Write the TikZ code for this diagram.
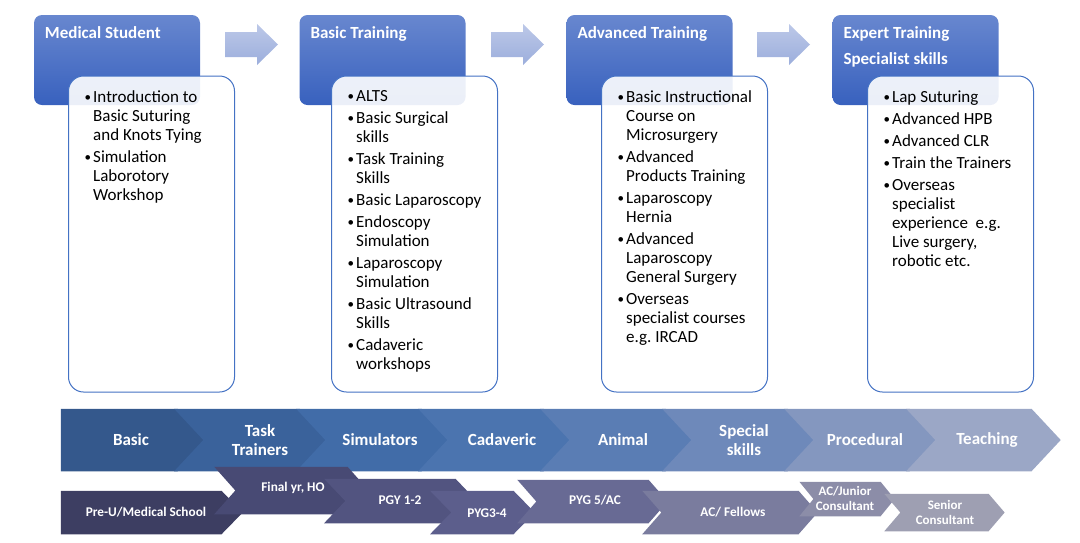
\documentclass[tikz,border=0pt]{standalone}
\usepackage{fontspec}
\setmainfont{Carlito}
\usetikzlibrary{positioning}

\definecolor{hdtop}{RGB}{104,135,207}
\definecolor{hdbot}{RGB}{56,97,190}
\definecolor{listline}{RGB}{68,114,196}
\definecolor{arrtop}{RGB}{188,200,232}
\definecolor{arrbot}{RGB}{156,174,220}
\definecolor{c1}{RGB}{52,88,140}
\definecolor{c2}{RGB}{58,98,155}
\definecolor{c3}{RGB}{65,108,168}
\definecolor{c4}{RGB}{75,116,175}
\definecolor{c5}{RGB}{90,125,180}
\definecolor{c6}{RGB}{110,137,186}
\definecolor{c7}{RGB}{132,151,191}
\definecolor{c8}{RGB}{155,167,198}
\definecolor{d1}{RGB}{61,62,98}
\definecolor{d2}{RGB}{72,74,116}
\definecolor{d3}{RGB}{82,84,128}
\definecolor{d4}{RGB}{92,94,140}
\definecolor{d5}{RGB}{104,106,148}
\definecolor{d6}{RGB}{122,124,158}
\definecolor{d7}{RGB}{140,141,168}
\definecolor{d8}{RGB}{158,159,178}

\newcommand{\itembul}{\makebox[9pt][l]{\hspace*{0.5pt}\raisebox{1.2pt}{\fontsize{13}{13}\selectfont\textbullet}}}
\newcommand{\itemind}{\hspace*{9pt}}

\begin{document}
\begin{tikzpicture}[x=1pt, y=-1pt,
	head/.style={rectangle, rounded corners=8pt, minimum width=166pt, minimum height=90pt, top color=hdtop, bottom color=hdbot},
	title/.style={inner sep=0pt, text=white, align=left, font=\fontsize{17}{19}\selectfont\bfseries},
	listbox/.style={rectangle, rounded corners=15pt, minimum width=166pt, minimum height=316pt, draw=listline, line width=1pt, fill=white, fill opacity=0.9},
	items/.style={inner sep=0pt, align=left, font=\fontsize{17}{19}\selectfont},
	blockarrow/.style={top color=arrtop, bottom color=arrbot},
	chev/.style={draw=white, line width=2.5pt, line join=miter},
	stage/.style={text=white, align=center, font=\fontsize{17}{19}\selectfont\bfseries},
	grade/.style={text=white, align=center, font=\fontsize{13.3}{15}\selectfont\bfseries},
	gradesmall/.style={text=white, align=center, font=\fontsize{13}{15}\selectfont\bfseries}]

	\useasboundingbox (0,0) rectangle (1080,542);

	\node (ms) [head] at (117, 60) {};
	\node (bt) [head] at (382.5, 60) {};
	\node (at) [head] at (649.5, 60) {};
	\node (et) [head] at (915.5, 60) {};

	\node (mstitle) [title, below right=12pt and 11pt of ms.north west] {Medical Student};
	\node (bttitle) [title, below right=12pt and 11pt of bt.north west] {Basic Training};
	\node (attitle) [title, below right=12pt and 11pt of at.north west] {Advanced Training};
	\node (ettitle) [title, below right=12pt and 11pt of et.north west] {Expert Training\\[7pt]Specialist skills};

	\shade[blockarrow] (225,32) -- (257,32) -- (257,24) -- (278,44.5) -- (257,65) -- (257,57) -- (225,57) -- cycle;
	\shade[blockarrow] (491,32) -- (523,32) -- (523,24) -- (544,44.5) -- (523,65) -- (523,57) -- (491,57) -- cycle;
	\shade[blockarrow] (757,32) -- (789,32) -- (789,24) -- (810,44.5) -- (789,65) -- (789,57) -- (757,57) -- cycle;

	\node (msbox) [listbox] at (151.5, 234) {};
	\node (btbox) [listbox] at (414.5, 234) {};
	\node (atbox) [listbox] at (684.5, 234) {};
	\node (etbox) [listbox] at (950.5, 234) {};

	\node (msitems) [items, below right=15pt and 16pt of msbox.north west] {\itembul Introduction to\\ \itemind Basic Suturing\\ \itemind and Knots Tying\\[3pt] \itembul Simulation\\ \itemind Laborotory\\ \itemind Workshop};
	\node (btitems) [items, below right=15pt and 16pt of btbox.north west] {\itembul ALTS\\[3pt] \itembul Basic Surgical\\ \itemind skills\\[3pt] \itembul Task Training\\ \itemind Skills\\[3pt] \itembul Basic Laparoscopy\\[3pt] \itembul Endoscopy\\ \itemind Simulation\\[3pt] \itembul Laparoscopy\\ \itemind Simulation\\[3pt] \itembul Basic Ultrasound\\ \itemind Skills\\[3pt] \itembul Cadaveric\\ \itemind workshops};
	\node (atitems) [items, below right=15pt and 16pt of atbox.north west] {\itembul Basic Instructional\\ \itemind Course on\\ \itemind Microsurgery\\[3pt] \itembul Advanced\\ \itemind Products Training\\[3pt] \itembul Laparoscopy\\ \itemind Hernia\\[3pt] \itembul Advanced\\ \itemind Laparoscopy\\ \itemind General Surgery\\[3pt] \itembul Overseas\\ \itemind specialist courses\\ \itemind e.g.\ IRCAD};
	\node (etitems) [items, below right=15pt and 16pt of etbox.north west] {\itembul Lap Suturing\\[3pt] \itembul Advanced HPB\\[3pt] \itembul Advanced CLR\\[3pt] \itembul Train the Trainers\\[3pt] \itembul Overseas\\ \itemind specialist\\ \itemind experience\ \ e.g.\\ \itemind Live surgery,\\ \itemind robotic etc.};

	\fill[chev, c1] (62,410) -- (177,410) -- (205,440) -- (177,470) -- (62,470) -- cycle;
	\fill[chev, c2] (177,410) -- (299,410) -- (327,440) -- (299,470) -- (177,470) -- (205,440) -- cycle;
	\fill[chev, c3] (299,410) -- (421,410) -- (449,440) -- (421,470) -- (299,470) -- (327,440) -- cycle;
	\fill[chev, c4] (421,410) -- (543,410) -- (571,440) -- (543,470) -- (421,470) -- (449,440) -- cycle;
	\fill[chev, c5] (543,410) -- (665,410) -- (693,440) -- (665,470) -- (543,470) -- (571,440) -- cycle;
	\fill[chev, c6] (665,410) -- (787,410) -- (815,440) -- (787,470) -- (665,470) -- (693,440) -- cycle;
	\fill[chev, c7] (787,410) -- (909,410) -- (937,440) -- (909,470) -- (787,470) -- (815,440) -- cycle;
	\fill[chev, c8] (909,410) -- (1031,410) -- (1059,440) -- (1031,470) -- (909,470) -- (937,440) -- cycle;

	\node (basic) [stage] at (131, 440) {Basic};
	\node (task) [stage] at (260, 440) {Task\\Trainers};
	\node (sim) [stage] at (380, 440) {Simulators};
	\node (cad) [stage] at (502, 440) {Cadaveric};
	\node (animal) [stage] at (623, 440) {Animal};
	\node (special) [stage] at (744, 440) {Special\\skills};
	\node (proc) [stage] at (865, 440) {Procedural};
	\node (teach) [stage] at (987, 440) {Teaching};

	\fill[chev, d1] (62,492) -- (221,492) -- (241,512.5) -- (221,533) -- (62,533) -- cycle;
	\fill[chev, d2] (217,468) -- (347,468) -- (367,490.5) -- (347,513) -- (217,513) -- (237,490.5) -- cycle;
	\fill[chev, d3] (327,480) -- (455,480) -- (475,501) -- (455,522) -- (327,522) -- (347,501) -- cycle;
	\fill[chev, d4] (433,492) -- (513,492) -- (533,512.5) -- (513,533) -- (433,533) -- (453,512.5) -- cycle;
	\fill[chev, d5] (520,481) -- (648,481) -- (666,501.5) -- (648,522) -- (520,522) -- (538,501.5) -- cycle;
	\fill[chev, d6] (645,492) -- (798,492) -- (816,512.5) -- (798,533) -- (645,533) -- (663,512.5) -- cycle;
	\fill[chev, d7] (802,483) -- (880,483) -- (893,499) -- (880,515) -- (802,515) -- (815,499) -- cycle;
	\fill[chev, d8] (887,495) -- (988,495) -- (1003,512.5) -- (988,530) -- (887,530) -- (902,512.5) -- cycle;

	\node (preu) [grade] at (146, 512) {Pre-U/Medical School};
	\node (final) [grade] at (293, 488) {Final yr, HO};
	\node (pgy) [grade] at (400, 500) {PGY 1-2};
	\node (pyg34) [grade] at (487, 513) {PYG3-4};
	\node (pyg5) [grade] at (595, 500) {PYG 5/AC};
	\node (fellows) [grade] at (733, 512) {AC/ Fellows};
	\node (junior) [gradesmall] at (845, 498) {AC/Junior\\Consultant};
	\node (senior) [gradesmall] at (945, 512) {Senior\\Consultant};

\end{tikzpicture}
\end{document}
